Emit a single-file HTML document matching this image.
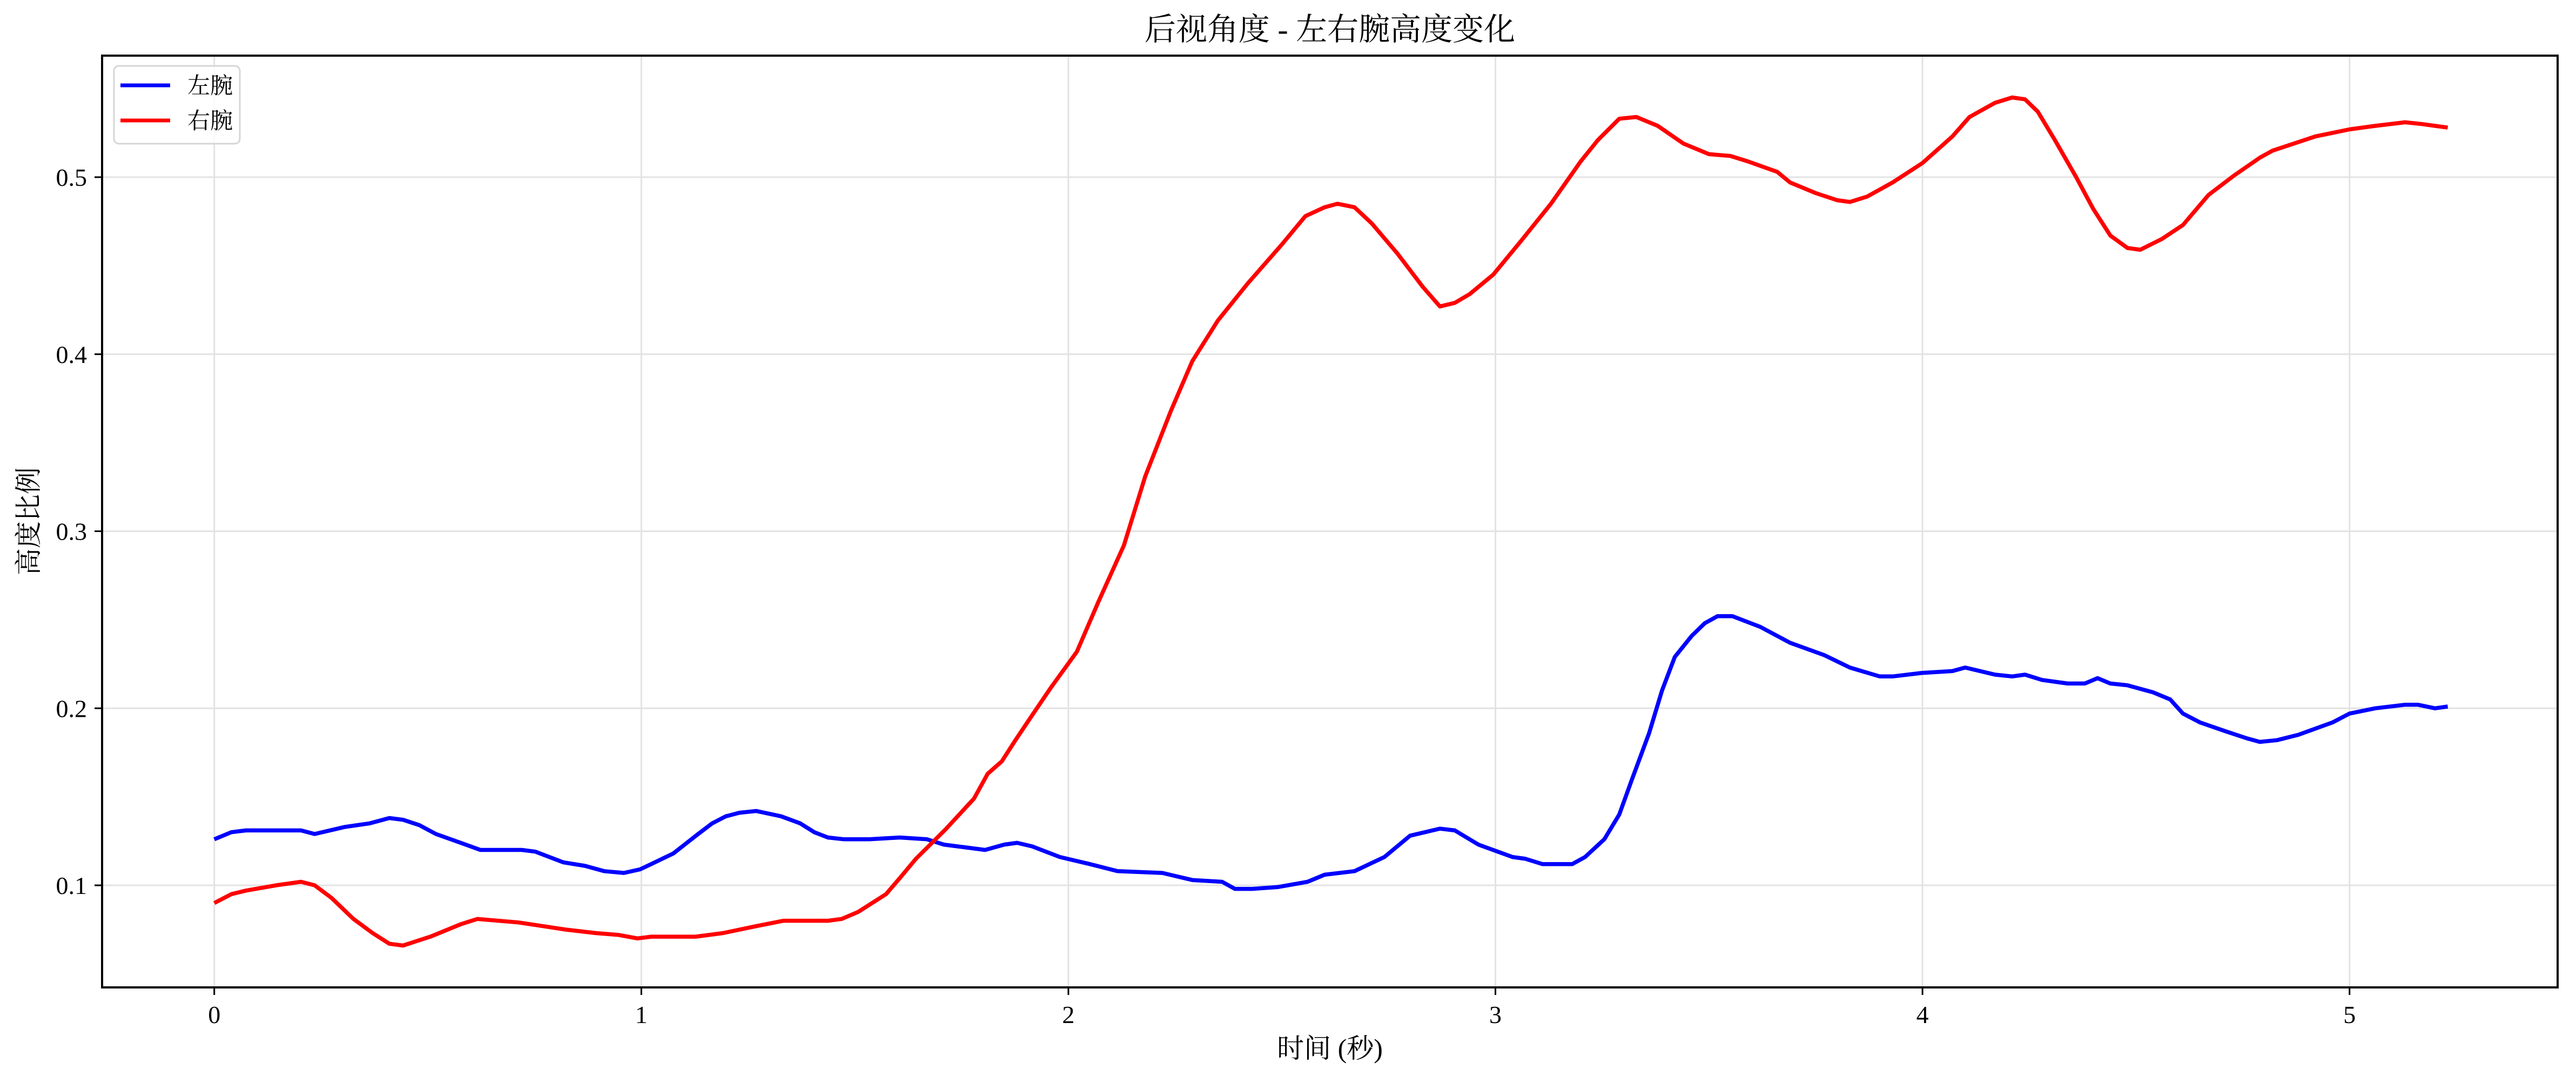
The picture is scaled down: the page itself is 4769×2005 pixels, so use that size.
<!DOCTYPE html>
<html><head><meta charset="utf-8"><style>
html,body{margin:0;padding:0;background:#fff;}
svg{display:block;font-family:"Liberation Serif","Noto Serif CJK SC",serif;}
</style></head><body>
<svg id="chart" width="4769" height="2005" viewBox="0 0 4769 2005" xmlns="http://www.w3.org/2000/svg">
<rect width="4769" height="2005" fill="#fff"/>
<g id="grid"></g>
<g id="series"></g>
<rect x="189" y="103" width="4546" height="1725" fill="none" stroke="#000" stroke-width="4"/>
<g id="ticks"></g>
<text x="2462" y="74" font-size="58" text-anchor="middle">后视角度 - 左右腕高度变化</text>
<text x="2462" y="1958" font-size="50" text-anchor="middle">时间 (秒)</text>
<text transform="translate(70,965) rotate(-90)" font-size="50" text-anchor="middle">高度比例</text>
<g>
<rect x="211" y="122" width="233" height="144" rx="9" fill="#fff" fill-opacity="0.8" stroke="#d6d6d6" stroke-width="3"/>
<line x1="223" y1="158" x2="315" y2="158" stroke="#0000ff" stroke-width="7"/>
<text x="347" y="173" font-size="42">左腕</text>
<line x1="223" y1="223" x2="315" y2="223" stroke="#ff0000" stroke-width="7"/>
<text x="347" y="238" font-size="42">右腕</text>
</g>
</svg>
<script>
const xTicks=[0,1,2,3,4,5];
const xTickLabels=["0","1","2","3","4","5"];
const yTicks=[0.1,0.2,0.3,0.4,0.5];
const yTickLabels=["0.1","0.2","0.3","0.4","0.5"];
const leftT=[0,.04,.074,.145,.203,.235,.306,.364,.41,.442,.48,.519,.577,.623,.674,.72,.752,.817,.868,.913,.959,.997,1.023,1.075,1.133,1.166,1.198,1.23,1.269,1.327,1.372,1.405,1.437,1.475,1.534,1.605,1.669,1.708,1.805,1.85,1.88,1.915,1.98,2.05,2.115,2.22,2.29,2.36,2.39,2.43,2.49,2.56,2.60,2.67,2.74,2.80,2.87,2.905,2.96,3.04,3.07,3.11,3.18,3.21,3.255,3.29,3.32,3.36,3.39,3.42,3.46,3.49,3.52,3.555,3.62,3.69,3.77,3.83,3.90,3.93,4.00,4.07,4.10,4.17,4.21,4.24,4.28,4.34,4.38,4.41,4.44,4.48,4.54,4.58,4.61,4.65,4.71,4.76,4.79,4.83,4.88,4.96,5.00,5.06,5.13,5.16,5.20,5.23];
const leftV=[.126,.130,.131,.131,.131,.129,.133,.135,.138,.137,.134,.129,.124,.120,.120,.120,.119,.113,.111,.108,.107,.109,.112,.118,.129,.135,.139,.141,.142,.139,.135,.130,.127,.126,.126,.127,.126,.123,.120,.123,.124,.122,.116,.112,.108,.107,.103,.102,.098,.098,.099,.102,.106,.108,.116,.128,.132,.131,.123,.116,.115,.112,.112,.116,.126,.140,.160,.186,.210,.229,.241,.248,.252,.252,.246,.237,.230,.223,.218,.218,.220,.221,.223,.219,.218,.219,.216,.214,.214,.217,.214,.213,.209,.205,.197,.192,.187,.183,.181,.182,.185,.192,.197,.200,.202,.202,.200,.201];
const rightT=[0,.04,.074,.145,.203,.235,.274,.326,.371,.41,.442,.506,.577,.616,.713,.823,.894,.946,.991,1.023,1.127,1.191,1.27,1.333,1.385,1.437,1.469,1.508,1.573,1.605,1.643,1.714,1.779,1.811,1.844,1.876,1.915,1.96,2.02,2.07,2.13,2.18,2.24,2.29,2.35,2.42,2.50,2.555,2.60,2.63,2.67,2.71,2.77,2.83,2.87,2.905,2.94,2.995,3.06,3.13,3.20,3.24,3.29,3.33,3.38,3.44,3.50,3.55,3.59,3.66,3.69,3.75,3.80,3.83,3.87,3.93,4.00,4.07,4.11,4.17,4.21,4.24,4.27,4.31,4.36,4.40,4.44,4.48,4.51,4.56,4.61,4.67,4.73,4.79,4.82,4.92,5.00,5.06,5.13,5.17,5.20,5.23];
const rightV=[.090,.095,.097,.100,.102,.100,.093,.081,.073,.067,.066,.071,.078,.081,.079,.075,.073,.072,.070,.071,.071,.073,.077,.080,.080,.080,.081,.085,.095,.104,.115,.132,.149,.163,.170,.182,.196,.212,.232,.260,.292,.331,.368,.396,.419,.440,.462,.478,.483,.485,.483,.474,.457,.438,.427,.429,.434,.445,.464,.485,.509,.521,.533,.534,.529,.519,.513,.512,.509,.503,.497,.491,.487,.486,.489,.497,.508,.523,.534,.542,.545,.544,.537,.521,.500,.482,.467,.460,.459,.465,.473,.490,.501,.511,.515,.523,.527,.529,.531,.530,.529,.528];

const NS="http://www.w3.org/2000/svg";
const X0=189,X1=4735,Y0=103,Y1=1828;
const tMin=-0.2627,tMax=5.4873,vMin=0.04234,vMax=0.56865;
function sx(t){return X0+(t-tMin)/(tMax-tMin)*(X1-X0);}
function sy(v){return Y1-(v-vMin)/(vMax-vMin)*(Y1-Y0);}
function mk(tag,attrs,parent){const e=document.createElementNS(NS,tag);for(const k in attrs)e.setAttribute(k,attrs[k]);parent.appendChild(e);return e;}
const grid=document.getElementById('grid'),ticks=document.getElementById('ticks'),series=document.getElementById('series');
xTicks.forEach((t,i)=>{
  const g=mk('line',{x1:sx(t),x2:sx(t),y1:Y0,y2:Y1,stroke:'#e3e3e3','stroke-width':3},grid);
  
  
  const tk=mk('line',{x1:sx(t),x2:sx(t),y1:Y1,y2:Y1+14,stroke:'#000','stroke-width':3},ticks);
  
  
  const lb=mk('text',{x:sx(t),y:Y1+66,'font-size':46,'text-anchor':'middle'},ticks);
  lb.textContent=xTickLabels[i];
  
  
});
yTicks.forEach((v,i)=>{
  const g=mk('line',{x1:X0,x2:X1,y1:sy(v),y2:sy(v),stroke:'#e3e3e3','stroke-width':3},grid);
  
  
  const tk=mk('line',{x1:X0-14,x2:X0,y1:sy(v),y2:sy(v),stroke:'#000','stroke-width':3},ticks);
  
  
  const lb=mk('text',{x:X0-28,y:sy(v)+16,'font-size':46,'text-anchor':'end'},ticks);
  lb.textContent=yTickLabels[i];
  
  
});
function pathOf(T,V){return T.map((t,i)=>(i?'L':'M')+sx(t).toFixed(1)+','+sy(V[i]).toFixed(1)).join(' ');}
const pl=mk('path',{d:pathOf(leftT,leftV),fill:'none',stroke:'#0000ff','stroke-width':7.5,'stroke-linejoin':'round'},series);


const pr=mk('path',{d:pathOf(rightT,rightV),fill:'none',stroke:'#ff0000','stroke-width':7.5,'stroke-linejoin':'round'},series);


</script>
</body></html>
